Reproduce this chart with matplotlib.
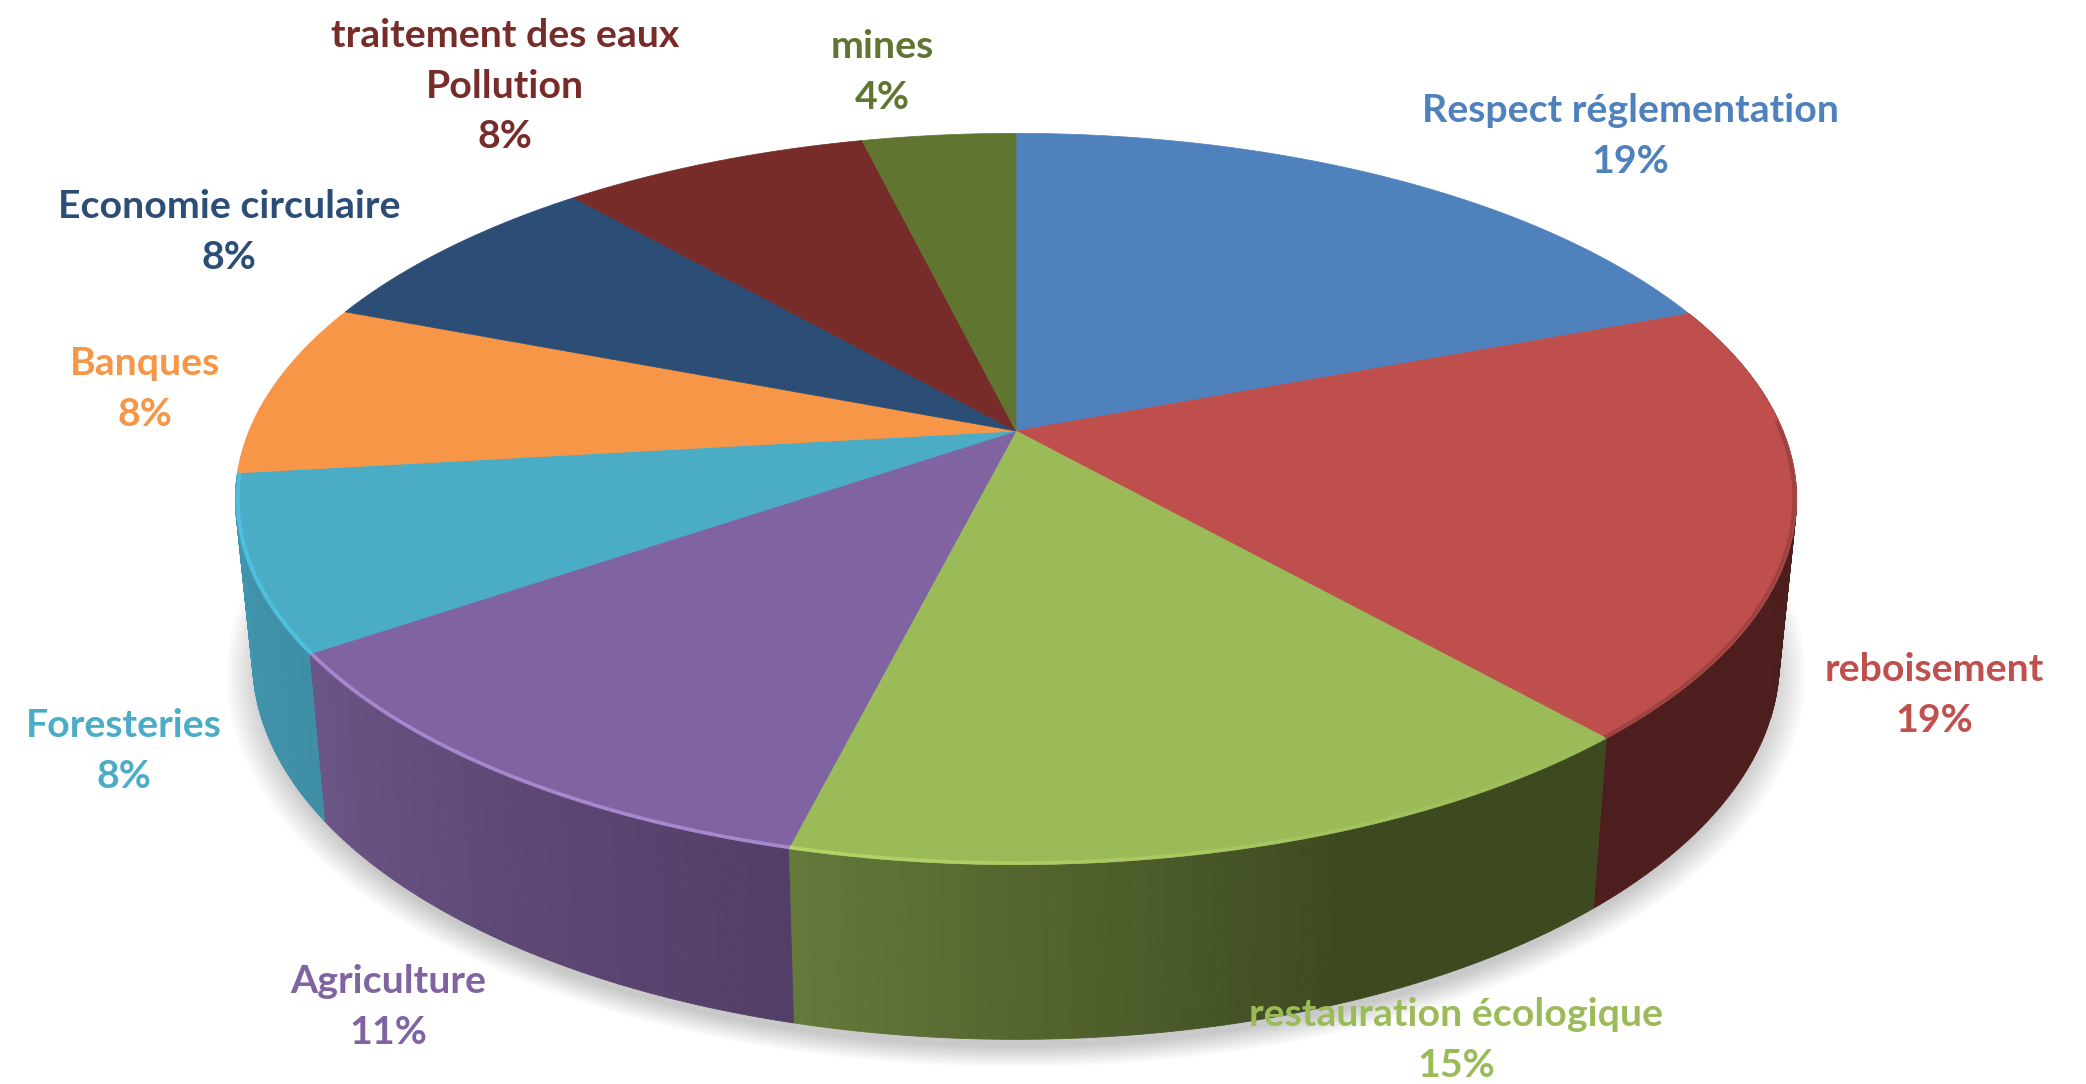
# -*- coding: utf-8 -*-
import matplotlib
matplotlib.use('Agg')
import matplotlib.pyplot as plt
from matplotlib.collections import LineCollection, PolyCollection
from matplotlib.colors import to_rgb
from matplotlib.patches import Polygon
import numpy as np

#%% Data
labels = ['Respect réglementation', 'reboisement', 'restauration écologique',
          'Agriculture', 'Foresteries', 'Banques', 'Economie circulaire',
          'traitement des eaux\nPollution', 'mines']
shares = [19.2, 19.2, 15.4, 11.5, 7.7, 7.7, 7.7, 7.6, 3.8]
percents = [19, 19, 15, 11, 8, 8, 8, 8, 4]

#%% Styles and layout (pixels of the 2086x1084 figure)
topColors = ['#4F81BD', '#BE4F4D', '#9BBB59', '#8064A2', '#4BACC6',
             '#F79646', '#2C4D75', '#772C2A', '#5F7530']
textColors = ['#4F81BD', '#C0504D', '#9BBB59', '#8064A2', '#4BACC6',
              '#F79646', '#2C4D75', '#772C2A', '#5F7530']
# wall colours: only the slices facing us get a wall
sideStart = [None, '#4e1e1e', '#64793a', '#6b5486', '#4096ae', None, None, None, None]
sideEnd = [None, '#4b1d1d', '#3d4a20', '#523e66', '#3e8ea6', None, None, None, None]
sideRate = [1, 1, 1.6, 1, 1, 1, 1, 1, 1]
rimColors = ['#4F81BD', '#8a3a38', '#b5d468', '#a88ad0', '#4fc3e2',
             '#F79646', '#2C4D75', '#772C2A', '#5F7530']
rimAlpha = [(0, 0), (0.6, 0.6), (0, 1), (1, 1), (1, 1), (0, 0), (0, 0), (0, 0), (0, 0)]
labelXY = [(1630, 136), (1934, 695), (1456, 1040), (388, 1007), (124, 751),
           (145, 389), (229, 232), (505, 86), (882, 72)]

CX, CY = 1016, 431         # pie centre on the top face
A, B, K = 767, 353, 0.186  # circle radius in x, in y, perspective strength
CY2, B2, S = 590, 374, 0.978  # bottom face centre, y radius and x scale


def project(theta, radius=1.0, bottom=False):
    # theta is clockwise from 12 o'clock, in radians
    X = radius * np.sin(theta)
    Y = radius * np.cos(theta)
    d = 1 + K * Y
    if bottom:
        return CX + S * A * X / d, CY2 - S * B2 * Y / d
    return CX + A * X / d, CY - B * Y / d


fig = plt.figure(figsize=(20.86, 10.84), dpi=100)
ax = fig.add_axes([0, 0, 1, 1])
ax.set_xlim(0, 2086)
ax.set_ylim(1084, 0)
ax.axis('off')

edges = np.cumsum([0] + shares) / np.sum(shares) * 2 * np.pi

#%% Shadow under the pie
circle = np.linspace(0, 2 * np.pi, 400)
for grow in np.linspace(1.035, 0.99, 18):
    sx, sy = project(circle, bottom=True)
    sx = CX + (sx - CX) * grow
    sy = CY2 + 12 + (sy - CY2) * grow
    ax.add_patch(Polygon(np.column_stack([sx, sy]), closed=True, fc='k',
                         ec='none', alpha=0.011, zorder=1))

#%% Side wall, one thin strip per step so it can be shaded
polys, polyColors = [], []
for i in range(len(shares)):
    if sideStart[i] is None:
        continue
    n = max(int((edges[i + 1] - edges[i]) / 0.01), 2)
    ts = np.linspace(edges[i], edges[i + 1], n + 1)
    c0, c1 = np.array(to_rgb(sideStart[i])), np.array(to_rgb(sideEnd[i]))
    for j in range(n):
        tx0, ty0 = project(ts[j])
        tx1, ty1 = project(ts[j + 1])
        bx0, by0 = project(ts[j], bottom=True)
        bx1, by1 = project(ts[j + 1], bottom=True)
        polys.append([(tx0, ty0), (tx1, ty1), (bx1, by1), (bx0, by0)])
        # the strips run right to left on the front wall
        f = min((1 - j / (n - 1)) * sideRate[i], 1)
        polyColors.append(c0 * (1 - f) + c1 * f)
ax.add_collection(PolyCollection(polys, facecolors=polyColors,
                                 edgecolors=polyColors, linewidths=0.6,
                                 zorder=2))

#%% Top face
for i in range(len(shares)):
    ts = np.linspace(edges[i], edges[i + 1], 150)
    x, y = project(ts)
    xy = np.column_stack([np.r_[CX, x], np.r_[CY, y]])
    ax.add_patch(Polygon(xy, closed=True, fc=topColors[i], ec=topColors[i],
                         lw=0.5, zorder=3))
    # soft bevel on the rim, fading along the slice
    if rimAlpha[i][1] > 0:
        front = ts[(ts > np.radians(88)) & (ts < np.radians(272))]
        rx, ry = project(front, radius=0.997)
        pts = np.column_stack([rx, ry])
        segs = np.stack([pts[:-1], pts[1:]], axis=1)
        fade = np.linspace(rimAlpha[i][0], rimAlpha[i][1], len(segs))
        segColors = [to_rgb(rimColors[i]) + (a,) for a in fade]
        ax.add_collection(LineCollection(segs, colors=segColors, linewidths=2.5,
                                         capstyle='butt', zorder=4))

#%% Labels
for i in range(len(shares)):
    ax.text(labelXY[i][0], labelXY[i][1],
            '{}\n{}%'.format(labels[i], percents[i]),
            color=textColors[i], ha='center', va='center', fontsize=28.3,
            fontweight='bold', family='Lato', linespacing=1.55, zorder=5)

fig.savefig('out.png', dpi=100, facecolor='white')
